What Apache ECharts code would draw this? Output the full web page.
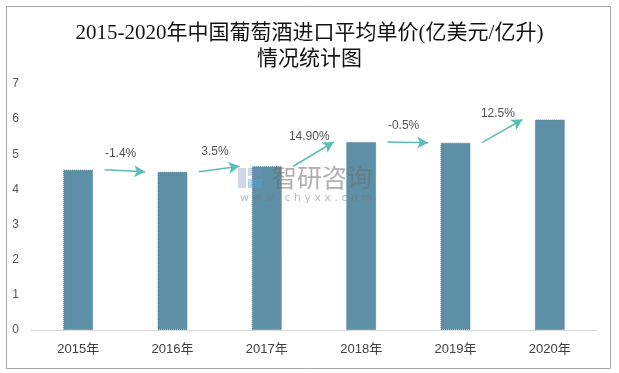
<!DOCTYPE html>
<html><head><meta charset="utf-8">
<script src="https://cdn.jsdelivr.net/npm/echarts@6/dist/echarts.min.js"></script>
<style>html,body{margin:0;padding:0;background:#fff}#c{width:619px;height:373px}</style>
</head><body><div id="c"></div>
<script>
var categories = ['2015年','2016年','2017年','2018年','2019年','2020年'];
var prices = [4.56, 4.50, 4.66, 5.35, 5.33, 5.99];
var growthLabels = ['-1.4%','3.5%','14.90%','-0.5%','12.5%'];
var yTicks = [0,1,2,3,4,5,6,7];

var arrowStart = 0.28, arrowEnd = 0.71, labelX = 0.45;
var arrowLines = [], labelPoints = [];
for (var i = 0; i < growthLabels.length; i++) {
  arrowLines.push([{coord:[i + arrowStart, prices[i]]},{coord:[i + arrowEnd, prices[i+1]]}]);
  labelPoints.push({value:[i + labelX, (prices[i] + prices[i+1]) / 2], name: growthLabels[i]});
}

var chart = echarts.init(document.getElementById('c'), null, {renderer:'canvas'});
chart.setOption({
  animation:false,
  backgroundColor:'#fff',
  title:{
    text:'2015-2020年中国葡萄酒进口平均单价(亿美元/亿升)\n情况统计图',
    left:'center', top:15,
    textStyle:{fontFamily:"'Liberation Serif','Noto Sans CJK SC'",fontSize:21,fontWeight:'normal',color:'#111',lineHeight:26}
  },
  graphic:[
    {type:'rect',z:100,shape:{x:6.5,y:6.5,width:604,height:362},style:{fill:'none',stroke:'#a6a6a6',lineWidth:1}},
    {type:'rect',z:100,left:238,top:168,shape:{width:8,height:20},style:{fill:'rgba(120,140,190,0.35)'}},
    {type:'rect',z:100,left:248,top:168,shape:{width:14,height:8},style:{fill:'rgba(120,140,190,0.35)'}},
    {type:'rect',z:100,left:248,top:179,shape:{width:14,height:9},style:{fill:'rgba(90,160,220,0.45)'}},
    {type:'text',z:100,left:272,top:165,style:{text:'智研咨询',fill:'rgba(110,110,110,0.55)',font:'25px "Noto Sans CJK SC"'}},
    {type:'text',z:100,left:240,top:193,style:{text:'w w w . c h y x x . c o m',fill:'rgba(120,120,120,0.5)',font:'11px "DejaVu Sans"'}}
  ],
  grid:{left:31,right:22,top:84,bottom:43,containLabel:false},
  xAxis:[
    {type:'category',data:categories,axisTick:{show:false},
     axisLine:{lineStyle:{color:'#d9d9d9',width:1}},
     axisLabel:{color:'#404040',fontSize:13,margin:13,fontFamily:"'Liberation Sans','Noto Sans CJK SC'"}},
    {type:'value',min:-0.5,max:5.5,show:false}
  ],
  yAxis:{type:'value',min:yTicks[0],max:yTicks[yTicks.length-1],interval:1,
    splitLine:{show:false},axisLine:{show:false},axisTick:{show:false},
    axisLabel:{color:'#595959',fontSize:12,margin:12,fontFamily:"'Liberation Sans'"}},
  series:[
    {type:'bar',data:prices,barWidth:30,xAxisIndex:0,
     itemStyle:{color:'#5d8fa6',borderColor:'#52849b',borderWidth:1,borderType:'dotted'}},
    {type:'scatter',xAxisIndex:1,data:labelPoints,symbolSize:0,
     label:{show:true,position:'top',distance:11,formatter:function(p){return p.name;},
       color:'#262626',fontSize:12,fontFamily:"'Liberation Sans'"},
     markLine:{silent:true,symbol:['none','arrow'],symbolSize:[9,11],
       lineStyle:{color:'#5bbdb6',width:1.5,type:'solid'},label:{show:false},
       data:arrowLines}
    }
  ]
});
</script></body></html>
